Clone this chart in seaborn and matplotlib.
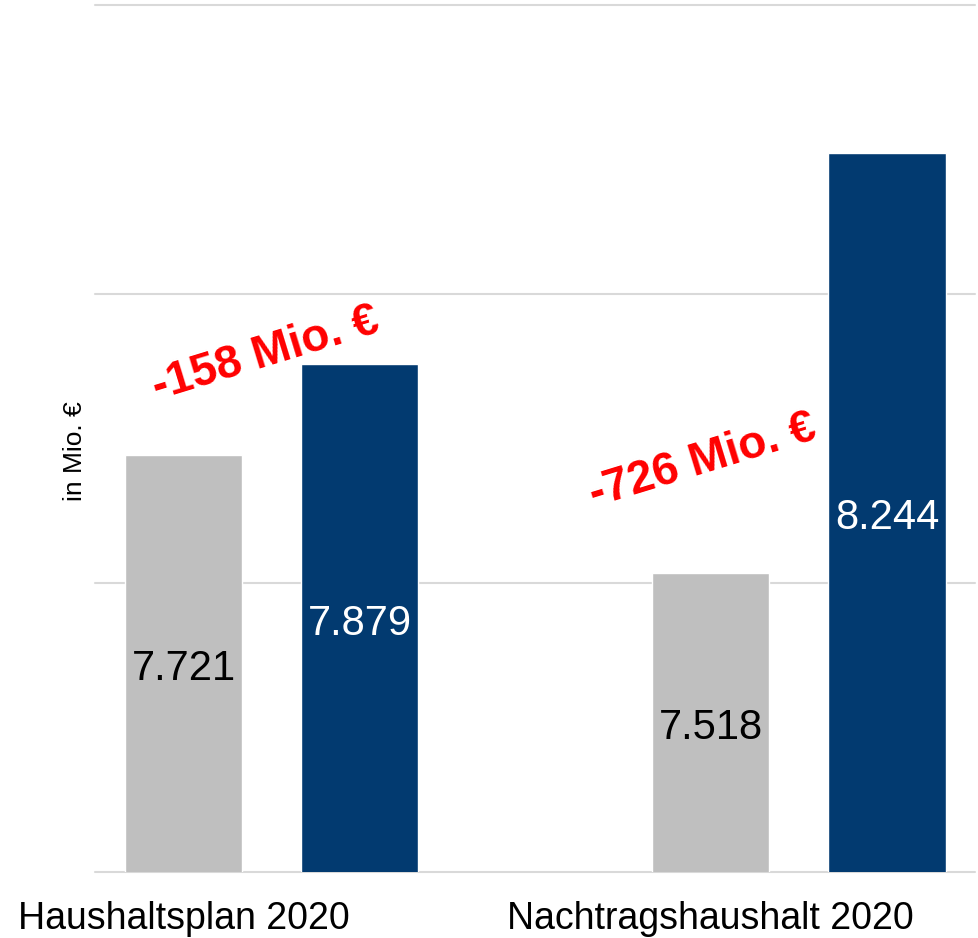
import pandas as pd
import seaborn as sns
import matplotlib.pyplot as plt

# Data
plans = ["Haushaltsplan 2020", "Nachtragshaushalt 2020"]
kind = ["Einnahmen", "Ausgaben"]
einnahmen = [7721, 7518]
ausgaben = [7879, 8244]

df = pd.DataFrame({
    "Plan": plans * 2,
    "Art": [kind[0]] * 2 + [kind[1]] * 2,
    "Wert": einnahmen + ausgaben,
})

sns.set_style("white")
plt.rcParams["font.family"] = ["Liberation Sans", "DejaVu Sans"]

fig = plt.figure(figsize=(9.79, 9.38), dpi=100)
ax = fig.add_axes([95 / 979, 1 - 872 / 938, 880 / 979, 867 / 938])

sns.barplot(data=df, x="Plan", y="Wert", hue="Art", hue_order=kind,
            palette=["#BFBFBF", "#023A70"], width=0.668, gap=0.335,
            saturation=1, legend=False, ax=ax)

ymin, ymax = 7000, 8500
ax.set_ylim(ymin, ymax)
ax.set_xlim(-0.335, 1.334)
ax.set_yticks([7000, 7500, 8000, 8500])
ax.set_yticklabels([])
ax.yaxis.grid(True, color="#D9D9D9", linewidth=1.5)
for gl in ax.get_ygridlines():
    gl.set_clip_on(False)
ax.set_axisbelow(True)
sns.despine(ax=ax, left=True, bottom=True)
ax.tick_params(length=0)

# value labels centered in the visible part of the bars
for cont, col in zip(ax.containers, ["black", "white"]):
    for p in cont:
        v = p.get_height()
        ax.annotate(f"{int(v):,}".replace(",", "."),
                    (p.get_x() + p.get_width() / 2, (ymin + v) / 2),
                    xytext=(0, -4), textcoords="offset points",
                    ha="center", va="center", fontsize=30, color=col)

# category labels under the grey bars
grey = ax.containers[0]
ax.set_xticks([p.get_x() + p.get_width() / 2 for p in grey])
ax.set_xticklabels(plans, fontsize=27, color="black")
ax.tick_params(axis="x", pad=21)
ax.set_xlabel("")
ax.set_ylabel("in Mio. €", fontsize=19, color="black")
ax.yaxis.set_label_coords(-0.009, 0.485)

# difference annotations
diff_pos = [(-0.012, 7896), (0.817, 7711)]
for (x, y), e, a in zip(diff_pos, einnahmen, ausgaben):
    ax.text(x, y, f"{e - a} Mio. €", color="#FF0000", fontsize=33,
            fontweight="bold", rotation=17, ha="center", va="center",
            rotation_mode="anchor")

fig.savefig("out.png", dpi=100)
